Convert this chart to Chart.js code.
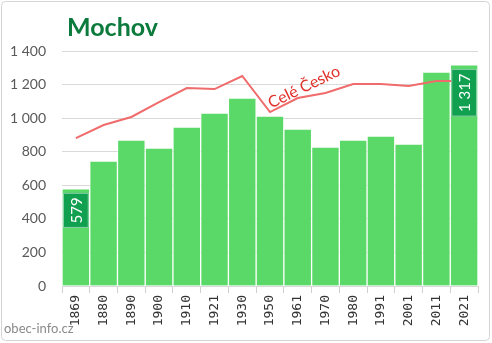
<!DOCTYPE html>
<html>
<head>
<meta charset="utf-8">
<script src="https://cdn.jsdelivr.net/npm/chart.js@4"></script>
<style>
    html, body { margin: 0; padding: 0; background: #fff; }
    #wrap { width: 492px; height: 343px; }
</style>
</head>
<body>
<div id="wrap"><canvas id="chart"></canvas></div>
<script>
    // ============================================
    // Data
    // ============================================

    const years = ['1869', '1880', '1890', '1900', '1910', '1921', '1930', '1950',
        '1961', '1970', '1980', '1991', '2001', '2011', '2021'];
    const population = [579, 744, 870, 822, 947, 1030, 1120, 1012,
        935, 828, 870, 893, 846, 1275, 1317];
    // Whole Czechia, rescaled to the village
    const czechiaScaled = [881, 959, 1007, 1096, 1179, 1173, 1251, 1036,
        1120, 1150, 1203, 1203, 1191, 1221, 1221];
    const yTicks = [0, 200, 400, 600, 800, 1000, 1200, 1400];
    const labelledBars = [0, 14];

    const fmt = v => String(v).replace(/\B(?=(\d{3})+(?!\d))/g, ' ');

    // ============================================
    // Overlay drawing (title, labels, frame)
    // ============================================

    const overlay = {
        id: 'overlay',
        afterDatasetsDraw(chart) {
            const ctx = chart.ctx;
            const bars = chart.getDatasetMeta(1).data;

            // value boxes
            labelledBars.forEach(i => {
                const bar = bars[i];
                const text = fmt(population[i]);
                ctx.save();
                ctx.font = '15px Lato, sans-serif';
                const tw = ctx.measureText(text).width;
                const h = tw + 9;
                const w = bar.width - 2;
                const top = bar.y + 4;
                ctx.fillStyle = '#11a04f';
                ctx.fillRect(bar.x - w / 2, top, w, h);
                ctx.strokeStyle = 'rgba(255,255,255,0.5)';
                ctx.strokeRect(bar.x - w / 2 + 0.5, top + 0.5, w - 1, h - 1);
                ctx.translate(bar.x, top + h / 2);
                ctx.rotate(-Math.PI / 2);
                ctx.fillStyle = '#fff';
                ctx.textAlign = 'center';
                ctx.textBaseline = 'middle';
                ctx.fillText(text, 0, 1);
                ctx.restore();
            });

            // line label
            ctx.save();
            ctx.translate(304, 87);
            ctx.rotate(-0.45);
            ctx.font = '16px Lato, sans-serif';
            ctx.fillStyle = '#e0312b';
            ctx.textAlign = 'center';
            ctx.textBaseline = 'middle';
            ctx.fillText('Celé Česko', 0, 0);
            ctx.restore();
        },
        afterDraw(chart) {
            const ctx = chart.ctx;
            ctx.save();
            ctx.font = 'bold 25px Lato, sans-serif';
            ctx.fillStyle = '#0b7a3c';
            ctx.textBaseline = 'alphabetic';
            ctx.fillText('Mochov', 67, 36);

            ctx.font = '13px Lato, sans-serif';
            ctx.fillStyle = '#8a8a8a';
            ctx.fillText('obec-info.cz', 4, 333);

            ctx.strokeStyle = '#d4d4d4';
            ctx.lineWidth = 1;
            ctx.beginPath();
            ctx.roundRect(1.5, 1.5, 488, 339, 4);
            ctx.stroke();
            ctx.restore();
        }
    };

    // ============================================
    // Chart
    // ============================================

    new Chart(document.getElementById('chart'), {
        data: {
            labels: years,
            datasets: [{
                type: 'line',
                data: czechiaScaled,
                borderColor: '#f06b6b',
                borderWidth: 2,
                pointRadius: 0,
                tension: 0,
                order: 0
            }, {
                type: 'bar',
                data: population,
                backgroundColor: '#5bd968',
                borderColor: 'rgba(255,255,255,0.55)',
                borderWidth: 1,
                barPercentage: 1,
                categoryPercentage: 1,
                order: 1
            }]
        },
        options: {
            responsive: true,
            maintainAspectRatio: false,
            animation: false,
            layout: { padding: { top: 51, right: 14, left: 0, bottom: 0 } },
            plugins: {
                legend: { display: false },
                tooltip: { enabled: false }
            },
            scales: {
                x: {
                    offset: true,
                    grid: {
                        offset: true,
                        drawOnChartArea: false,
                        drawTicks: true,
                        tickLength: 7,
                        color: '#d0d0d0'
                    },
                    border: { color: '#d9d9d9' },
                    ticks: {
                        minRotation: 90,
                        maxRotation: 90,
                        padding: 2,
                        color: '#333',
                        font: { family: 'DejaVu Sans Mono', size: 13 }
                    },
                    afterFit(scale) { scale.height = 57; }
                },
                y: {
                    min: 0,
                    max: 1400,
                    afterBuildTicks(scale) {
                        scale.ticks = yTicks.map(v => ({ value: v }));
                    },
                    grid: { color: '#d9d9d9', drawTicks: false },
                    border: { display: false },
                    ticks: {
                        padding: 16,
                        color: '#595959',
                        font: { family: 'Lato', size: 14 },
                        callback: v => fmt(v)
                    },
                    afterFit(scale) { scale.width = 62; }
                }
            }
        },
        plugins: [overlay]
    });
</script>
</body>
</html>
